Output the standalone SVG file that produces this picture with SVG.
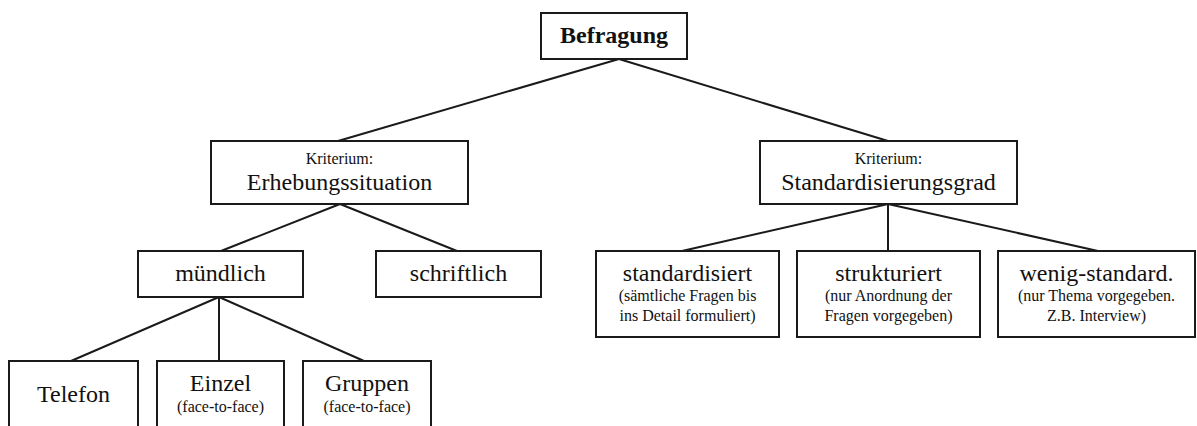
<svg xmlns="http://www.w3.org/2000/svg" width="1197" height="426" viewBox="0 0 1197 426">
<style>
.box{fill:#fff;stroke:#1a1a1a;stroke-width:2}
.ln{stroke:#1a1a1a;stroke-width:2;fill:none}
text{font-family:"Liberation Serif","Times New Roman",serif;fill:#111;text-anchor:middle}
.t{font-size:24px}
.s{font-size:16px}
.b{font-size:24px;font-weight:bold}
</style>
<rect width="1197" height="426" fill="#fff"/>
<g id="connectors">
<line class="ln" x1="619" y1="59" x2="338" y2="141"/>
<line class="ln" x1="619" y1="59" x2="888" y2="141"/>
<line class="ln" x1="340" y1="204" x2="221" y2="251"/>
<line class="ln" x1="340" y1="204" x2="457" y2="251"/>
<line class="ln" x1="888" y1="204" x2="682" y2="251"/>
<line class="ln" x1="888" y1="204" x2="888" y2="251"/>
<line class="ln" x1="888" y1="204" x2="1098" y2="251"/>
<line class="ln" x1="219" y1="297" x2="71" y2="361"/>
<line class="ln" x1="219" y1="297" x2="219" y2="361"/>
<line class="ln" x1="219" y1="297" x2="364" y2="361"/>
</g>
<g id="befragung">
<rect class="box" x="541" y="13" width="146" height="46"/>
<text class="b" x="614" y="43">Befragung</text>
</g>
<g id="erhebung">
<rect class="box" x="211" y="141" width="257" height="63"/>
<text class="s" x="339.5" y="164">Kriterium:</text>
<text class="t" x="339.5" y="190">Erhebungssituation</text>
</g>
<g id="standardisierungsgrad">
<rect class="box" x="760" y="141" width="257" height="63"/>
<text class="s" x="888.5" y="164">Kriterium:</text>
<text class="t" x="888.5" y="190">Standardisierungsgrad</text>
</g>
<g id="muendlich">
<rect class="box" x="138" y="251" width="165" height="46"/>
<text class="t" x="220.5" y="281">mündlich</text>
</g>
<g id="schriftlich">
<rect class="box" x="376" y="251" width="165" height="46"/>
<text class="t" x="458.5" y="281">schriftlich</text>
</g>
<g id="standardisiert">
<rect class="box" x="596" y="251" width="183" height="86"/>
<text class="t" x="687.5" y="281">standardisiert</text>
<text class="s" x="687.5" y="301">(sämtliche Fragen bis</text>
<text class="s" x="687.5" y="321">ins Detail formuliert)</text>
</g>
<g id="strukturiert">
<rect class="box" x="797" y="251" width="183" height="86"/>
<text class="t" x="888.5" y="281">strukturiert</text>
<text class="s" x="888.5" y="301">(nur Anordnung der</text>
<text class="s" x="888.5" y="321">Fragen vorgegeben)</text>
</g>
<g id="wenig">
<rect class="box" x="998" y="251" width="197" height="86"/>
<text class="t" x="1096.5" y="281">wenig-standard.</text>
<text class="s" x="1096.5" y="301">(nur Thema vorgegeben.</text>
<text class="s" x="1096.5" y="321">Z.B. Interview)</text>
</g>
<g id="telefon">
<rect class="box" x="9" y="361" width="129" height="70"/>
<text class="t" x="73.5" y="402">Telefon</text>
</g>
<g id="einzel">
<rect class="box" x="157" y="361" width="127" height="70"/>
<text class="t" x="220.5" y="391">Einzel</text>
<text class="s" x="220.5" y="412">(face-to-face)</text>
</g>
<g id="gruppen">
<rect class="box" x="303" y="361" width="128" height="70"/>
<text class="t" x="367" y="391">Gruppen</text>
<text class="s" x="367" y="412">(face-to-face)</text>
</g>
</svg>
